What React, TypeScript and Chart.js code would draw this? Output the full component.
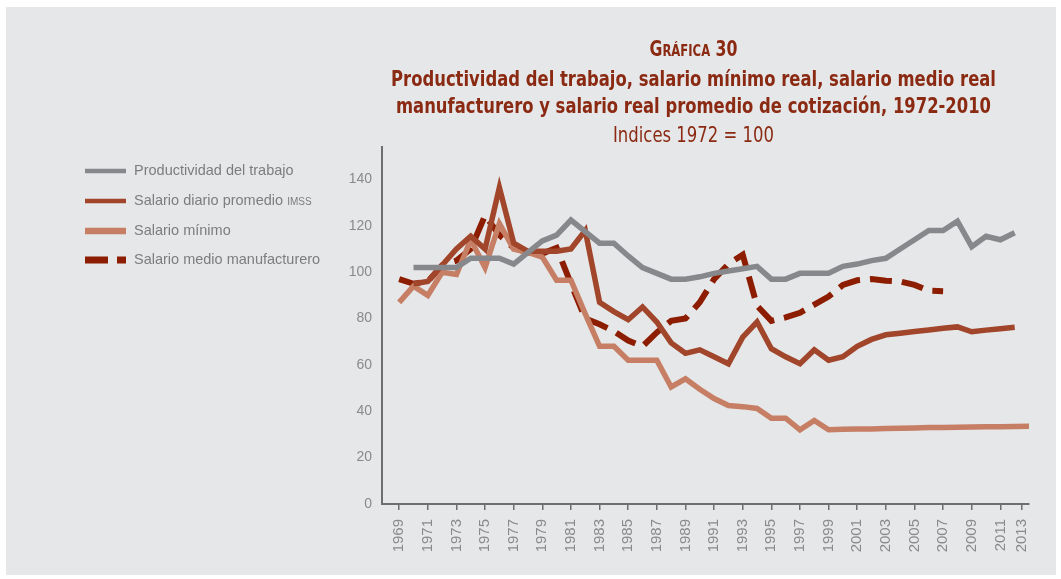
import { useEffect, useRef } from 'react';
import { Chart, registerables } from 'chart.js';

Chart.register(...registerables);

// ---------- DATA ----------
const years = [
  1969, 1970, 1971, 1972, 1973, 1974, 1975, 1976, 1977, 1978,
  1979, 1980, 1981, 1982, 1983, 1984, 1985, 1986, 1987, 1988,
  1989, 1990, 1991, 1992, 1993, 1994, 1995, 1996, 1997, 1998,
  1999, 2000, 2001, 2002, 2003, 2004, 2005, 2006, 2007, 2008,
  2009, 2010, 2011, 2012, 2013,
];

const productividad = [
  null, 102, 102, 102, 102, 106, 106, 106, 103.5, 108.5,
  113.5, 116, 122.5, 117.5, 112.5, 112.5, 107, 102, 99.5, 97,
  97, 98, 99.5, 100.5, 101.5, 102.5, 97, 97, 99.5, 99.5,
  99.5, 102.5, 103.5, 105, 106, 110, 114, 118, 118, 122,
  111, 115.5, 114, 117, null,
];

const salarioImss = [
  null, 95, 96, 103, 110, 115.5, 110, 136.5, 112.5, 109,
  109, 109, 110, 118, 87, 83, 79.5, 85, 78.5, 69.5,
  65, 66.5, 63.5, 60.5, 72, 78.5, 67, 63.5, 60.5, 66.5,
  62, 63.5, 68, 71, 73, 73.7, 74.4, 75.1, 75.8, 76.4,
  74.3, 75, 75.6, 76.2, null,
];

const salarioMinimo = [
  87, 94, 90, 100, 99, 114, 102, 121, 110, 108.5,
  106.5, 96.5, 96.5, 82, 68, 68, 62, 62, 62, 50.5,
  54, 49.5, 45.5, 42.5, 42, 41.2, 37, 37, 32, 36,
  32, 32.2, 32.4, 32.4, 32.6, 32.7, 32.8, 33, 33, 33.1,
  33.2, 33.3, 33.3, 33.4, 33.5,
];

const salarioManufactura = [
  97, 95, 96, 103, 105, 110, 124.5, 116, 110.5, 108.5,
  108, 110.5, 95, 80, 77.5, 74.5, 70.5, 68, 74, 79,
  80, 87, 97, 103.5, 107.5, 85.5, 79, 80.5, 82.5, 86,
  89.5, 94.5, 96.5, 97, 96.3, 96, 94.5, 92, 91.8, null,
  null, null, null, null, null,
];

const xTickYears = [
  1969, 1971, 1973, 1975, 1977, 1979, 1981, 1983, 1985, 1987, 1989,
  1991, 1993, 1995, 1997, 1999, 2001, 2003, 2005, 2007, 2009, 2011,
];
const lastTickLabel = '2013';
const yTicks = [0, 20, 40, 60, 80, 100, 120, 140];

const seriesNames = [
  'Productividad del trabajo',
  'Salario diario promedio',
  'Salario mínimo',
  'Salario medio manufacturero',
];
const imssSuffix = 'IMSS';

const titleKicker = ['G', 'RÁFICA', ' 30'];
const titleLines = [
  'Productividad del trabajo, salario mínimo real, salario medio real',
  'manufacturero y salario real promedio de cotización, 1972-2010',
];
const subtitleText = 'Indices 1972 = 100';

// ---------- STYLE ----------
const COLORS = {
  prod: '#87888b',
  imss: '#a1452b',
  minimo: '#c67f64',
  manuf: '#8c1d00',
  title: '#8b2a12',
  text: '#7d7d7d',
  axis: '#6e6e6e',
};
const TITLE_FONT = "'Liberation Sans Narrow', 'DejaVu Sans Condensed', 'Roboto', sans-serif";
const TEXT_FONT = "'Liberation Sans', Arial, sans-serif";

function drawFitted(ctx: CanvasRenderingContext2D, text: string, cx: number, baseline: number, targetW: number) {
  const w = ctx.measureText(text).width;
  const s = targetW / w;
  ctx.save();
  ctx.translate(cx, baseline);
  ctx.scale(s, 1);
  ctx.textAlign = 'center';
  ctx.fillText(text, 0, 0);
  ctx.restore();
}

const decorPlugin = {
  id: 'decor',
  afterDraw(chart: any) {
    const ctx: CanvasRenderingContext2D = chart.ctx;
    ctx.save();
    ctx.fillStyle = COLORS.title;
    ctx.textBaseline = 'alphabetic';
    const cx = 687.5;

    // Kicker "GRÁFICA 30" in small caps
    const sizes = [21, 15.5, 21];
    let total = 0;
    const widths: number[] = [];
    titleKicker.forEach((t, i) => {
      ctx.font = `bold ${sizes[i]}px ${TITLE_FONT}`;
      const w = ctx.measureText(t).width;
      widths.push(w);
      total += w;
    });
    const kScale = 88 / total;
    ctx.save();
    ctx.translate(cx - 88 / 2, 49);
    ctx.scale(kScale, 1);
    ctx.textAlign = 'left';
    let x = 0;
    titleKicker.forEach((t, i) => {
      ctx.font = `bold ${sizes[i]}px ${TITLE_FONT}`;
      ctx.fillText(t, x, 0);
      x += widths[i];
    });
    ctx.restore();

    ctx.font = `bold 21px ${TITLE_FONT}`;
    drawFitted(ctx, titleLines[0], cx, 79, 605);
    drawFitted(ctx, titleLines[1], cx, 106, 595);
    ctx.font = `22px ${TITLE_FONT}`;
    drawFitted(ctx, subtitleText, cx, 135, 161);

    // Legend
    const rows = [164, 194, 224, 253];
    const thick = [4.5, 4.5, 6.5, 7];
    const cols = [COLORS.prod, COLORS.imss, COLORS.minimo, COLORS.manuf];
    ctx.textAlign = 'left';
    ctx.textBaseline = 'middle';
    rows.forEach((y, i) => {
      ctx.fillStyle = cols[i];
      if (i === 3) {
        ctx.fillRect(79, y - thick[i] / 2, 23, thick[i]);
        ctx.fillRect(111, y - thick[i] / 2, 9, thick[i]);
      } else {
        ctx.fillRect(79, y - thick[i] / 2, 41, thick[i]);
      }
      ctx.fillStyle = COLORS.text;
      ctx.font = `14.5px ${TEXT_FONT}`;
      ctx.fillText(seriesNames[i], 128, y);
      if (i === 1) {
        const w = ctx.measureText(seriesNames[i] + ' ').width;
        ctx.font = `10px ${TEXT_FONT}`;
        ctx.fillText(imssSuffix, 128 + w, y + 1);
      }
    });
    ctx.restore();
  },
};

function toPoints(arr: (number | null)[]) {
  return years.map((yr, i) => ({ x: yr, y: arr[i] }));
}

export default function App() {
  const ref = useRef<HTMLCanvasElement | null>(null);

  useEffect(() => {
    if (!ref.current) return;
    const lastTickPos = 2012.5;
    const common = {
      fill: false,
      tension: 0,
      pointRadius: 0,
      pointHoverRadius: 0,
      borderCapStyle: 'butt' as const,
      borderJoinStyle: 'miter' as const,
      spanGaps: false,
    };
    const chart = new Chart(ref.current, {
      type: 'line',
      data: {
        datasets: [
          { ...common, label: seriesNames[0], data: toPoints(productividad) as any, borderColor: COLORS.prod, borderWidth: 5.5 },
          { ...common, label: seriesNames[1] + ' ' + imssSuffix, data: toPoints(salarioImss) as any, borderColor: COLORS.imss, borderWidth: 5.5 },
          { ...common, label: seriesNames[2], data: toPoints(salarioMinimo) as any, borderColor: COLORS.minimo, borderWidth: 5.5 },
          { ...common, label: seriesNames[3], data: toPoints(salarioManufactura) as any, borderColor: COLORS.manuf, borderWidth: 6, borderDash: [22, 10] },
        ],
      },
      options: {
        responsive: false,
        animation: false,
        devicePixelRatio: 1,
        layout: { padding: { left: 316, right: 27, top: 140, bottom: 11 } },
        plugins: {
          legend: { display: false },
          title: { display: false },
          tooltip: { enabled: false },
        },
        scales: {
          x: {
            type: 'linear',
            min: 1967.8,
            max: 2013,
            afterBuildTicks: (scale: any) => {
              scale.ticks = [...xTickYears, lastTickPos].map((v) => ({ value: v }));
            },
            afterFit: (scale: any) => {
              scale.height = 60;
            },
            ticks: {
              autoSkip: false,
              minRotation: 90,
              maxRotation: 90,
              padding: 9,
              color: '#8a8a8a',
              font: { family: TEXT_FONT, size: 15 },
              callback: (v: any) => (v === lastTickPos ? lastTickLabel : String(v)),
            },
            grid: {
              display: true,
              drawOnChartArea: false,
              drawTicks: true,
              tickLength: 6,
              color: COLORS.axis,
              lineWidth: 1.5,
            },
            border: { display: true, color: COLORS.axis, width: 2 },
          },
          y: {
            type: 'linear',
            min: 0,
            max: 154,
            afterBuildTicks: (scale: any) => {
              scale.ticks = yTicks.map((v) => ({ value: v }));
            },
            afterFit: (scale: any) => {
              scale.width = 60;
            },
            ticks: {
              padding: 10,
              color: '#8a8a8a',
              font: { family: TEXT_FONT, size: 14 },
            },
            grid: { display: false, drawTicks: false },
            border: { display: true, color: COLORS.axis, width: 2 },
          },
        },
      },
      plugins: [decorPlugin],
    });
    return () => chart.destroy();
  }, []);

  return (
    <div
      style={{
        position: 'absolute',
        left: 6,
        top: 7,
        width: 1050,
        height: 568,
        background: '#e6e7e9',
      }}
    >
      <canvas ref={ref} width={1050} height={568} style={{ display: 'block' }} />
    </div>
  );
}
